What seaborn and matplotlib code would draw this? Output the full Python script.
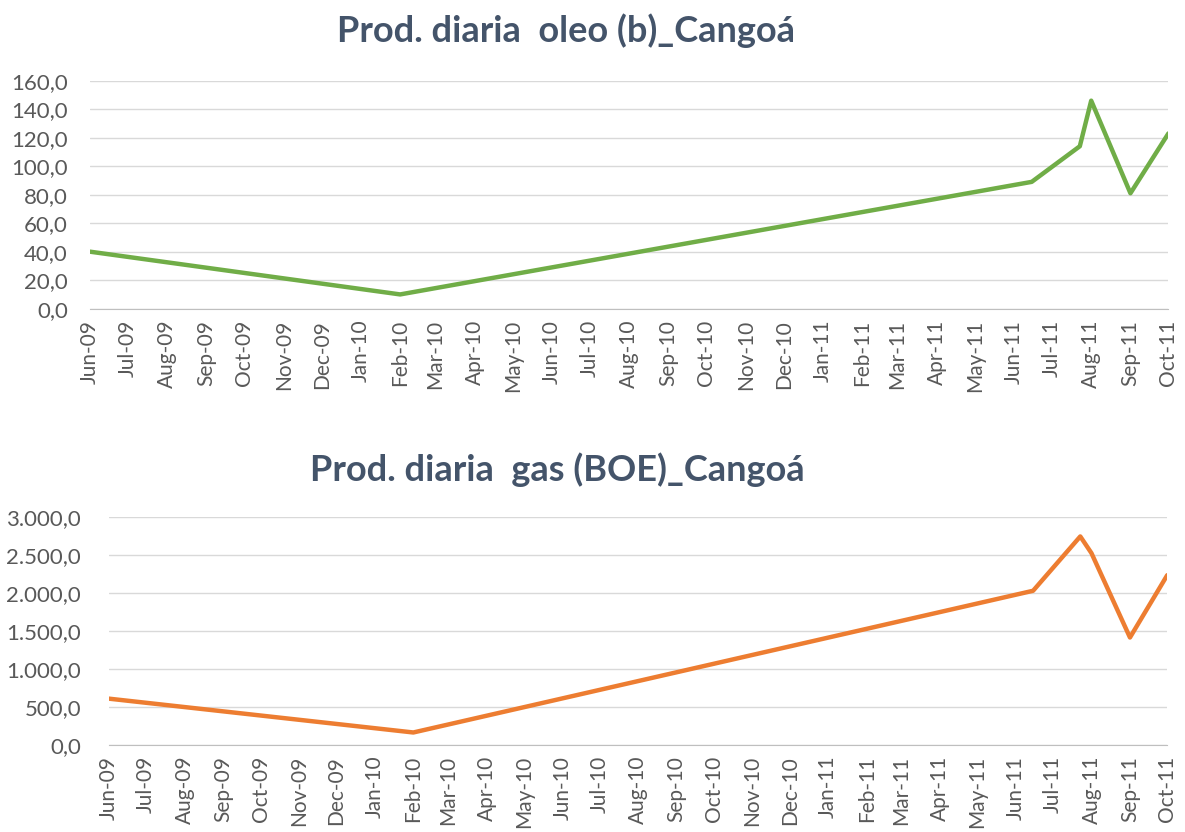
import pandas as pd
import seaborn as sns
import matplotlib.pyplot as plt
import matplotlib.dates as mdates
from matplotlib.ticker import FuncFormatter, MultipleLocator

# data
dates = ['2009-06-01', '2010-02-01', '2011-06-15', '2011-07-23',
         '2011-08-01', '2011-09-01', '2011-10-01']
oil = [40.0, 10.0, 89.0, 114.0, 146.0, 81.0, 123.0]
gas = [605.0, 160.0, 2025.0, 2740.0, 2520.0, 1410.0, 2230.0]

titles = ['Prod. diaria  oleo (b)_Cangoá', 'Prod. diaria  gas (BOE)_Cangoá']
colors = ['#70AD47', '#ED7D31']

df = pd.DataFrame({'date': pd.to_datetime(dates), 'oil': oil, 'gas': gas})

sns.set_style('white')
plt.rcParams['font.family'] = ['Lato', 'DejaVu Sans']


def br_fmt(v, pos):
    s = f"{v:,.1f}"
    return s.replace(',', 'X').replace('.', ',').replace('X', '.')


fig = plt.figure(figsize=(11.85, 8.32), dpi=100)
ax1 = fig.add_axes([0.076, 0.629, 0.910, 0.274])
ax2 = fig.add_axes([0.092, 0.105, 0.893, 0.274])

setup = [(ax1, 'oil', 160, 20, 16), (ax2, 'gas', 3000, 500, 20)]
for (ax, col, ymax, step, ypad), color in zip(setup, colors):
    sns.lineplot(data=df, x='date', y=col, ax=ax, color=color, linewidth=3.2)
    ax.set_xlim(pd.Timestamp('2009-06-01'), pd.Timestamp('2011-10-01'))
    ax.set_ylim(0, ymax)
    ax.yaxis.set_major_locator(MultipleLocator(step))
    ax.yaxis.set_major_formatter(FuncFormatter(br_fmt))
    ax.xaxis.set_major_locator(mdates.MonthLocator())
    ax.xaxis.set_major_formatter(mdates.DateFormatter('%b-%y'))
    ax.grid(axis='y', color='#D9D9D9', linewidth=1)
    ax.set_axisbelow(True)
    for s in ['top', 'right', 'left']:
        ax.spines[s].set_visible(False)
    ax.spines['bottom'].set_color('#BFBFBF')
    ax.tick_params(axis='x', length=5, color='#BFBFBF', labelrotation=90,
                   labelsize=15, labelcolor='#595959', pad=3)
    ax.tick_params(axis='y', length=0, labelsize=16, labelcolor='#595959', pad=ypad)
    ax.set_xlabel('')
    ax.set_ylabel('')

fig.text(0.478, 0.963, titles[0], ha='center', va='center', fontsize=26,
         fontweight='bold', color='#44546A')
fig.text(0.470, 0.436, titles[1], ha='center', va='center', fontsize=26,
         fontweight='bold', color='#44546A')

fig.savefig('out.png', dpi=100)
